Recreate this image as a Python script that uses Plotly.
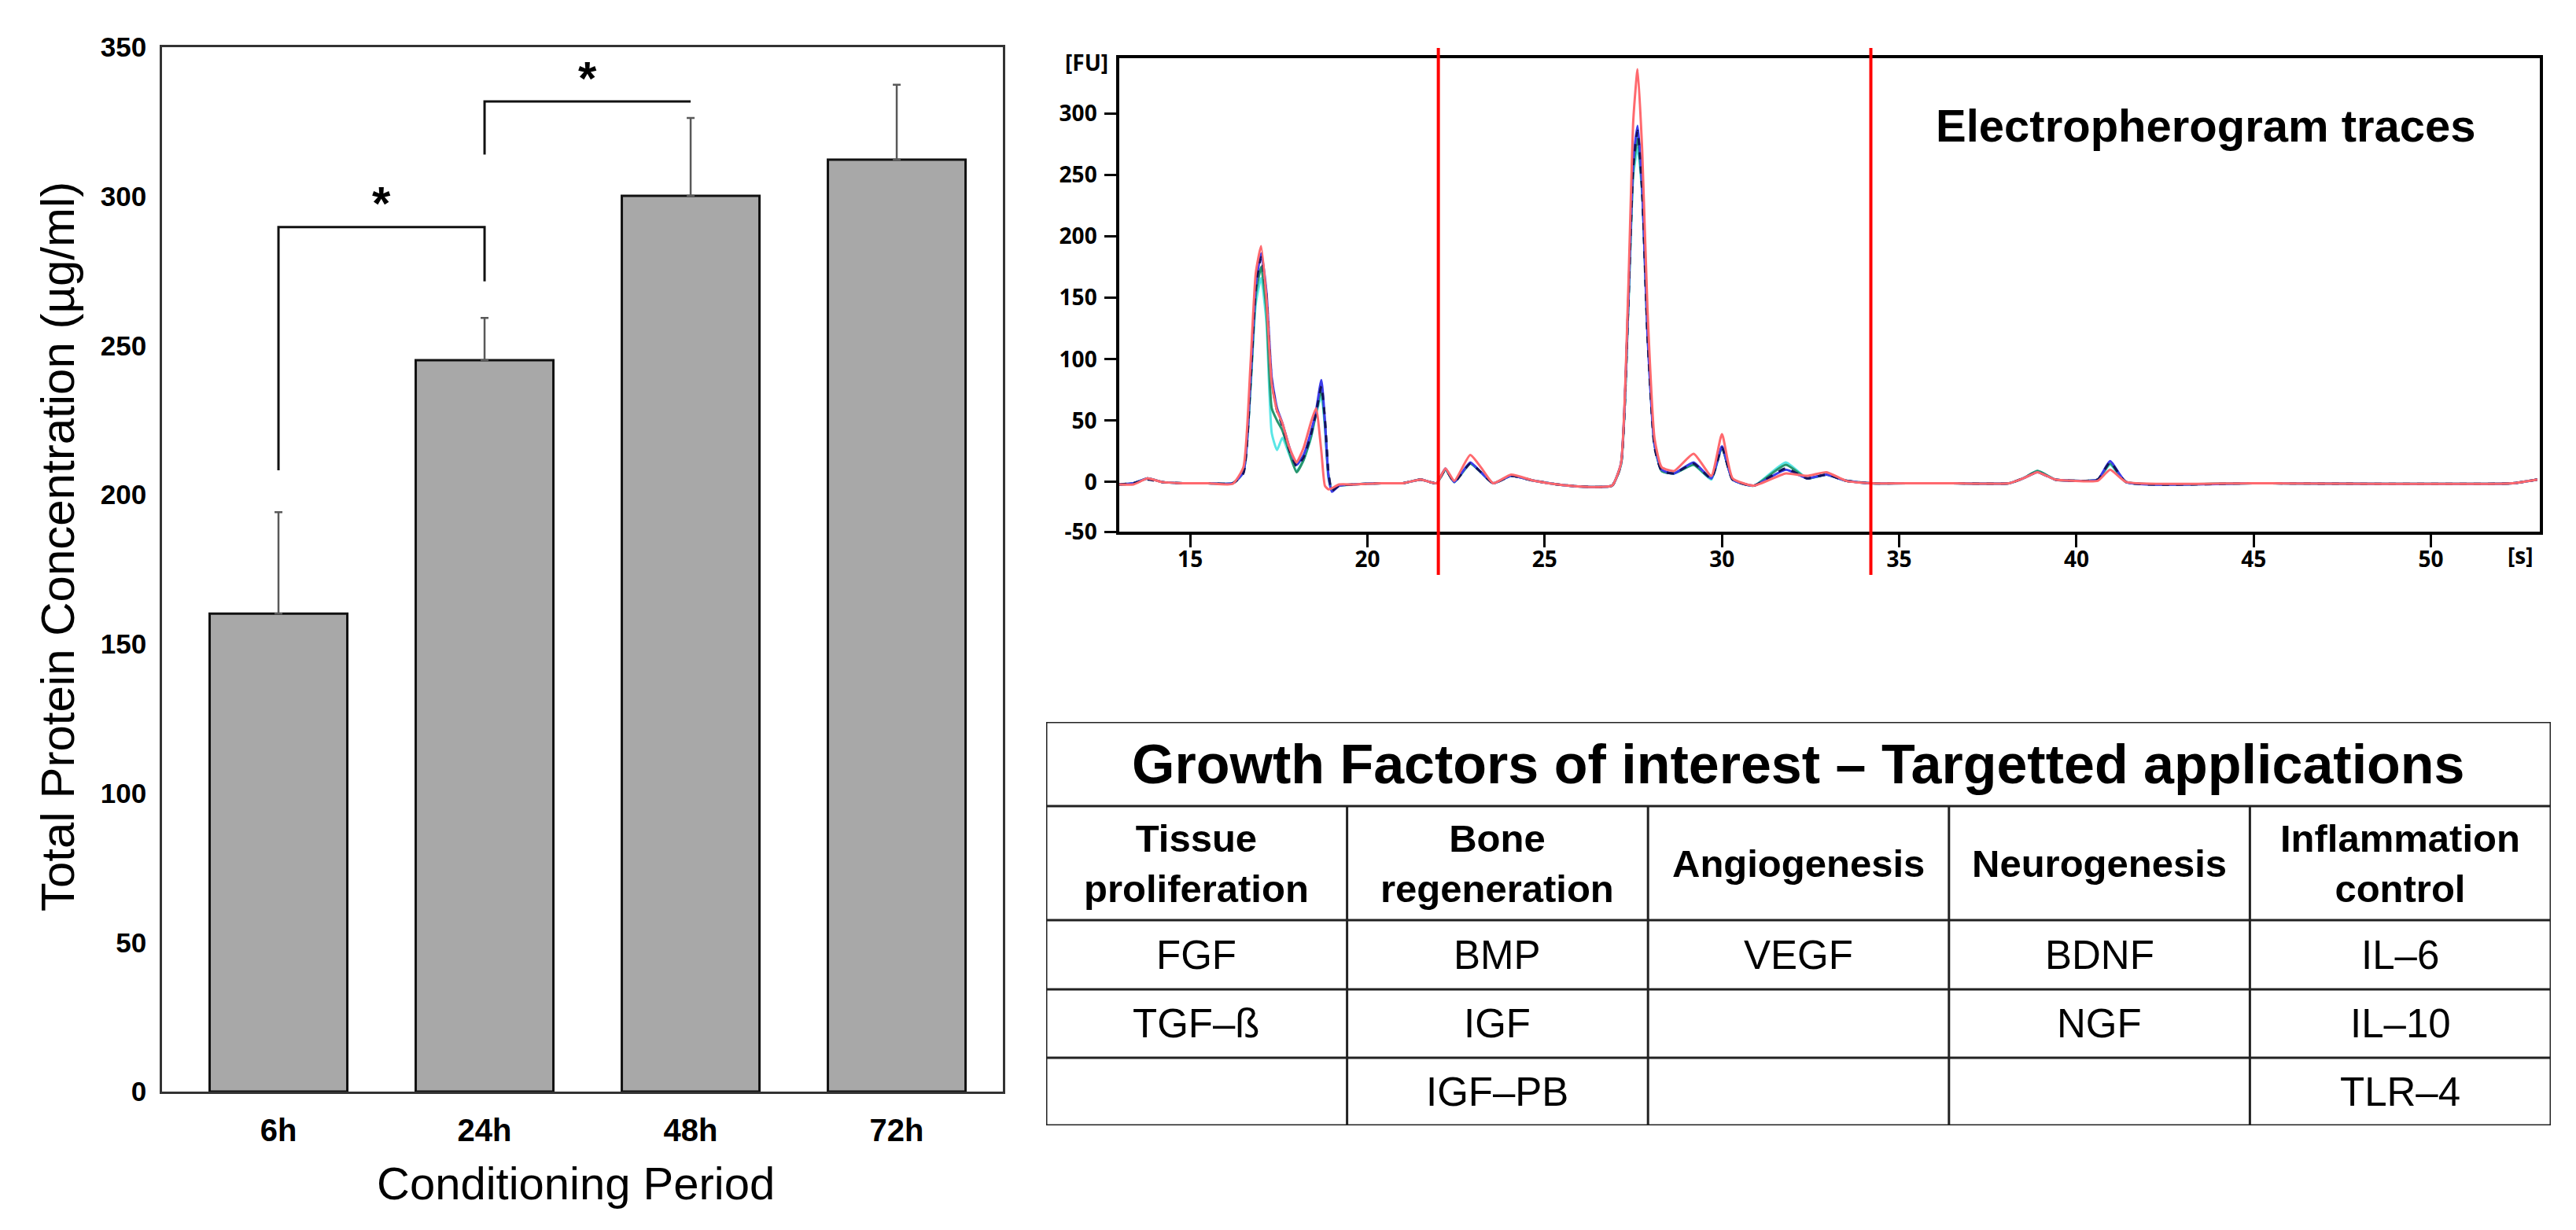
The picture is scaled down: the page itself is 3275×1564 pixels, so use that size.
import plotly.graph_objects as go

W, H = 3275, 1564

# ---- bar chart data (total protein, ug/ml) ----
periods = ["6h", "24h", "48h", "72h"]
protein = [160.2, 245.1, 300.2, 312.3]
protein_err = [34.0, 14.2, 26.1, 25.1]

# significance brackets: pairs of bar indices, bar top, leg ends
bracket_pairs = [(0, 1), (1, 2)]
bracket_top = [289.7, 331.8]
bracket_left_end = [208.2, 314.0]
bracket_right_end = [271.5, 331.8]
bracket_label = ["*", "*"]

# ---- electropherogram data ----
time_s = [13.0, 13.4, 13.8, 14.2, 14.8, 15.5, 16.2, 16.5, 16.7, 16.85,
          17.0, 17.15, 17.3, 17.45, 17.6, 17.8, 18.0, 18.2, 18.4, 18.55,
          18.7, 18.8, 18.9, 19.0, 19.2, 19.6, 20.4, 21.0, 21.5, 21.95,
          22.2, 22.45, 22.9, 23.2, 23.55, 24.05, 24.7, 25.5, 26.3, 26.9,
          27.15, 27.35, 27.5, 27.62, 27.75, 27.9, 28.1, 28.3, 28.65, 29.2,
          29.7, 30.0, 30.3, 30.9, 31.8, 32.4, 32.95, 33.5, 34.2, 35.5,
          36.5, 38.1, 38.5, 38.9, 39.4, 39.9, 40.6, 40.95, 41.4, 45.0,
          52.3, 53.0]

fu_cyan = [-2, -1, 3, 0, -1, -1, -1, 8, 75, 145,
           166, 130, 40, 26, 36, 22, 9, 18, 35, 55,
           70, 45, 3, -6, -3, -2, -1, -1, 2, -1,
           10, 0, 15, 8, -1, 5, 1, -2.5, -4, -3,
           14, 135, 250, 272, 235, 125, 30, 9, 7, 14,
           2, 28, 2, -3, 16, 3, 6, 1, -1, -1,
           -1, -1, 3, 9, 2, 1, 2, 14, 0, -1,
           -1, 2]
fu_green = [-2, -1, 3, 0, -1, -1, -1, 8, 78, 152,
            175, 140, 60, 50, 42, 24, 8, 18, 36, 56,
            75, 48, 6, -7, -3, -2, -1, -1, 2, -1,
            10, 0, 15, 8, -1, 5, 1, -2.5, -4, -3,
            14, 137, 255, 280, 238, 122, 30, 9, 7, 14,
            3, 28, 2, -3, 14, 3, 6, 1, -1, -1,
            -1, -1, 3, 9, 2, 1, 2, 15, 0, -1,
            -1, 2]
fu_blue = [-2, -1, 3, 0, -1, -1, -1, 8, 82, 160,
           186, 155, 85, 60, 48, 28, 14, 22, 40, 58,
           83, 50, 5, -8, -3, -2, -1, -1, 2, -1,
           11, 0, 16, 8, -1, 5, 1, -2.5, -4, -3,
           15, 140, 262, 290, 240, 120, 30, 10, 7, 16,
           3, 29, 2, -3, 10, 3, 6, 1, -1, -1,
           -1, -1, 3, 8, 2, 1, 2, 17, 0, -1,
           -1, 2]
fu_navy = [-2, -1, 2, 0, -1, -1, -1, 7, 80, 158,
           183, 152, 82, 58, 46, 26, 13, 20, 38, 56,
           78, 52, 8, -7, -3, -2, -1, -1, 2, -1,
           10, 0, 15, 8, -1, 5, 1, -2.5, -4, -3,
           14, 138, 258, 286, 236, 118, 28, 9, 7, 15,
           3, 28, 2, -3, 11, 3, 6, 1, -1, -1,
           -1, -1, 3, 8, 2, 1, 2, 16, 0, -1,
           -1, 2]
fu_red = [-2, -2, 3, 0, -1, -1, -1.5, 12, 95, 170,
          192, 150, 80, 58, 48, 28, 16, 28, 48, 60,
          25, -3, -6, -5, -2, -2, -1, -1, 2, -1,
          11, 1, 22, 12, -1, 6, 1, -2.5, -4, -3,
          15, 150, 295, 336, 270, 140, 35, 12, 9, 23,
          5, 39, 3, -3, 7, 5, 8, 1, -1, -1,
          -1, -1, 3, 8, 2, 1, 1, 10, 0, -1,
          -1, 2]

marker_lines_s = [22.0, 34.2]
fu_ticks = [0, 50, 100, 150, 200, 250, 300]
fu_bottom = -40.4          # bottom edge of the frame, labelled "-50" in the source
time_ticks = [15, 20, 25, 30, 35, 40, 45, 50]

# ---- table data ----
table_title = "Growth Factors of interest – Targetted applications"
table_headers = ["Tissue<br>proliferation", "Bone<br>regeneration", "Angiogenesis",
                 "Neurogenesis", "Inflammation<br>control"]
table_rows = [
    ["FGF", "BMP", "VEGF", "BDNF", "IL–6"],
    ["TGF–ß", "IGF", "", "NGF", "IL–10"],
    ["", "IGF–PB", "", "", "TLR–4"],
]

ARIAL = "Liberation Sans, Arial, sans-serif"
CAL = "Open Sans, DejaVu Sans, sans-serif"


def px(x):
    return x / W


def py(y):
    return 1 - y / H


fig = go.Figure()

# bars
fig.add_trace(go.Bar(
    x=periods, y=protein, width=0.668,
    marker=dict(color="#a8a8a8", line=dict(color="#111111", width=3)),
    error_y=dict(type="data", array=protein_err, symmetric=False,
                 arrayminus=[0] * len(protein_err),
                 color="#595959", thickness=2.5, width=5),
    xaxis="x", yaxis="y", showlegend=False,
))

# brackets
for k, (i, j) in enumerate(bracket_pairs):
    fig.add_trace(go.Scatter(
        x=[periods[i], periods[i], periods[j], periods[j]],
        y=[bracket_left_end[k], bracket_top[k], bracket_top[k], bracket_right_end[k]],
        mode="lines", line=dict(color="#111111", width=3),
        xaxis="x", yaxis="y", showlegend=False, hoverinfo="skip",
    ))

# electropherogram traces
traces = [
    (fu_cyan, "rgb(90,230,230)", "solid"),
    (fu_green, "rgb(40,150,110)", "solid"),
    (fu_blue, "rgb(60,60,235)", "solid"),
    (fu_navy, "rgb(20,20,90)", "dash"),
    (fu_red, "rgb(255,105,110)", "solid"),
]
for ys, col, dash in traces:
    fig.add_trace(go.Scatter(
        x=time_s, y=ys, mode="lines",
        line=dict(color=col, width=3, dash=dash, shape="spline", smoothing=0.5),
        xaxis="x2", yaxis="y2", showlegend=False,
    ))

# bar axes
fig.update_layout(
    xaxis=dict(domain=[px(198), px(1267)], range=[-0.565, 3.515],
               showline=True, linecolor="#333333", linewidth=2.5, mirror=True,
               showgrid=False, zeroline=False, ticks="", ticklabelstandoff=12,
               tickfont=dict(family=ARIAL, size=40, color="black", weight="bold"),
               automargin=False),
    yaxis=dict(domain=[py(1380), py(52)], range=[0, 350],
               tickvals=[0, 50, 100, 150, 200, 250, 300, 350],
               showline=True, linecolor="#333333", linewidth=2.5, mirror=True,
               showgrid=False, zeroline=False, ticks="", ticklabelstandoff=10,
               tickfont=dict(family=ARIAL, size=35, color="black", weight="bold"),
               automargin=False),
    xaxis2=dict(domain=[px(1415), px(3221)], range=[13.0, 53.07],
                tickvals=time_ticks, anchor="y2",
                showline=True, linecolor="black", linewidth=3.5, mirror=True,
                showgrid=False, zeroline=False, ticks="outside", ticklen=16,
                tickwidth=3, tickcolor="black", ticklabelstandoff=-8,
                tickfont=dict(family=CAL, size=28, color="black", weight="bold"),
                automargin=False),
    yaxis2=dict(domain=[py(668), py(66)], range=[fu_bottom, 345],
                tickvals=[fu_bottom] + fu_ticks,
                ticktext=["-50"] + [str(v) for v in fu_ticks], anchor="x2",
                showline=True, linecolor="black", linewidth=3.5, mirror=True,
                showgrid=False, zeroline=False, ticks="outside", ticklen=15,
                tickwidth=3, tickcolor="black", ticklabelstandoff=4,
                tickfont=dict(family=CAL, size=28, color="black", weight="bold"),
                automargin=False),
)

# table axes (hidden), columns 0..5, rows in pixel-like units from top
row_heights = [107, 145, 88, 87, 86]
row_edges = [0]
for h in row_heights:
    row_edges.append(row_edges[-1] + h)
n_cols = len(table_headers)

fig.update_layout(
    xaxis3=dict(domain=[px(1322), px(3235)], range=[0, n_cols], visible=False,
                anchor="y3", fixedrange=True),
    yaxis3=dict(domain=[py(1423), py(910)], range=[row_edges[-1], 0], visible=False,
                anchor="x3", fixedrange=True),
)

shapes = []
line_tab = dict(color="#222222", width=3)
shapes.append(dict(type="rect", xref="x3", yref="y3", x0=0, x1=n_cols,
                   y0=0, y1=row_edges[-1], line=line_tab))
for e in row_edges[1:-1]:
    shapes.append(dict(type="line", xref="x3", yref="y3", x0=0, x1=n_cols,
                       y0=e, y1=e, line=line_tab))
for c in range(1, n_cols):
    shapes.append(dict(type="line", xref="x3", yref="y3", x0=c, x1=c,
                       y0=row_edges[1], y1=row_edges[-1], line=line_tab))

# red region markers
for s in marker_lines_s:
    shapes.append(dict(type="line", xref="x2", yref="paper", x0=s, x1=s,
                       y0=py(723), y1=py(53), line=dict(color="#ff0000", width=4)))

annotations = []
CENTER = dict(xanchor="center", yanchor="middle", showarrow=False)


def row_center(r):
    return (row_edges[r] + row_edges[r + 1]) / 2


annotations.append(dict(text=table_title, xref="x3", yref="y3", x=n_cols / 2,
                        y=row_center(0), **CENTER,
                        font=dict(family=ARIAL, size=70, color="black", weight="bold")))
for c, htxt in enumerate(table_headers):
    annotations.append(dict(text=htxt, xref="x3", yref="y3", x=c + 0.5,
                            y=row_center(1), **CENTER,
                            font=dict(family=ARIAL, size=49, color="black", weight="bold")))
for r, row in enumerate(table_rows):
    for c, val in enumerate(row):
        if val:
            annotations.append(dict(text=val, xref="x3", yref="y3", x=c + 0.5,
                                    y=row_center(r + 2), **CENTER,
                                    font=dict(family=ARIAL, size=51, color="black")))

# significance stars
for k, (i, j) in enumerate(bracket_pairs):
    annotations.append(dict(text=bracket_label[k], xref="x", yref="y", x=(i + j) / 2,
                            y=bracket_top[k], yshift=30, **CENTER,
                            font=dict(family=ARIAL, size=60, color="black", weight="bold")))

# axis titles and labels
annotations += [
    dict(text="Total Protein Concentration (µg/ml)", xref="paper", yref="paper",
         x=px(66), y=py(687), textangle=-90, **CENTER,
         font=dict(family=ARIAL, size=60, color="black")),
    dict(text="Conditioning Period", xref="paper", yref="paper",
         x=px(724), y=py(1496), **CENTER,
         font=dict(family=ARIAL, size=58, color="black")),
    dict(text="Electropherogram traces", xref="paper", yref="paper",
         x=px(2796), y=py(151), **CENTER,
         font=dict(family=ARIAL, size=58, color="black", weight="bold")),
    dict(text="[FU]", xref="paper", yref="paper", x=px(1373), y=py(71),
         **CENTER, font=dict(family=CAL, size=28, color="black", weight="bold")),
    dict(text="[s]", xref="paper", yref="paper", x=px(3196), y=py(698),
         **CENTER, font=dict(family=CAL, size=28, color="black", weight="bold")),
]

fig.update_layout(
    width=W, height=H, autosize=False,
    margin=dict(l=0, r=0, t=0, b=0),
    paper_bgcolor="white", plot_bgcolor="white",
    shapes=shapes, annotations=annotations, showlegend=False,
    bargap=0.3,
)

fig.write_html("out.html")
